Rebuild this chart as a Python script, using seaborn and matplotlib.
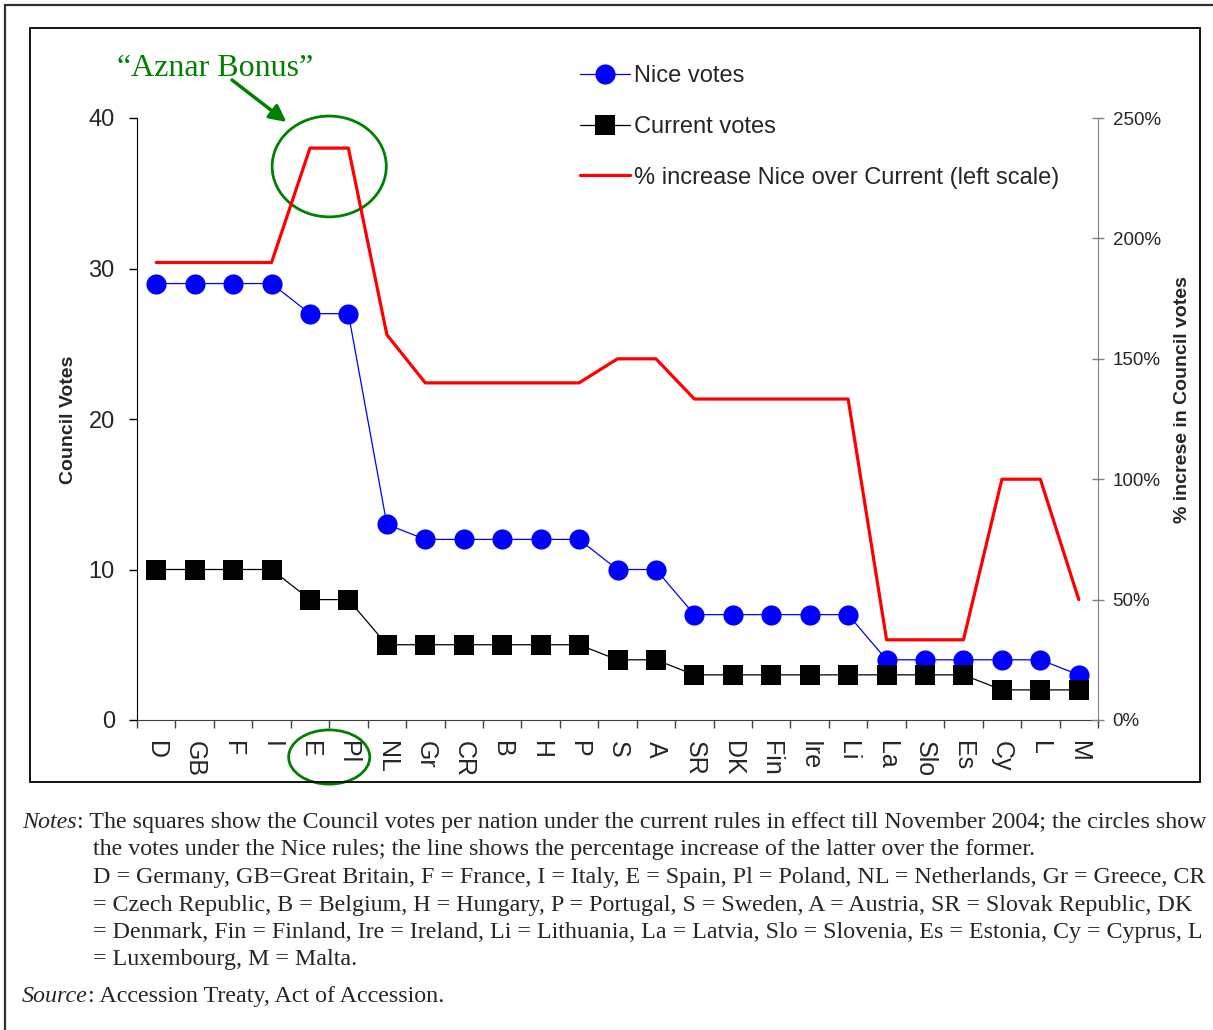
import matplotlib
matplotlib.use('Agg')
import matplotlib.pyplot as plt
import seaborn as sns
import pandas as pd
import numpy as np
from matplotlib.patches import Ellipse, Rectangle
from matplotlib.lines import Line2D

# Council votes per nation (current rules vs Nice rules)
countries = ['D', 'GB', 'F', 'I', 'E', 'Pl', 'NL', 'Gr', 'CR', 'B', 'H', 'P', 'S', 'A',
             'SR', 'DK', 'Fin', 'Ire', 'Li', 'La', 'Slo', 'Es', 'Cy', 'L', 'M']
nice_votes = [29, 29, 29, 29, 27, 27, 13, 12, 12, 12, 12, 12, 10, 10,
              7, 7, 7, 7, 7, 4, 4, 4, 4, 4, 3]
current_votes = [10, 10, 10, 10, 8, 8, 5, 5, 5, 5, 5, 5, 4, 4,
                 3, 3, 3, 3, 3, 3, 3, 3, 2, 2, 2]
pct_increase = [190, 190, 190, 190, 237.5, 237.5, 160, 140, 140, 140, 140, 140, 150, 150,
                133.3, 133.3, 133.3, 133.3, 133.3, 33.3, 33.3, 33.3, 100, 100, 50]
left_ticks = [0, 10, 20, 30, 40]
right_ticks = [0, 50, 100, 150, 200, 250]
right_tick_labels = ['0%', '50%', '100%', '150%', '200%', '250%']

notes_lines = [
    "the votes under the Nice rules; the line shows the percentage increase of the latter over the former.",
    "D = Germany, GB=Great Britain, F = France, I = Italy, E = Spain, Pl = Poland, NL = Netherlands, Gr = Greece, CR",
    "= Czech Republic, B = Belgium, H = Hungary, P = Portugal, S = Sweden, A = Austria, SR = Slovak Republic, DK",
    "= Denmark, Fin = Finland, Ire = Ireland, Li = Lithuania, La = Latvia, Slo = Slovenia, Es = Estonia, Cy = Cyprus, L",
    "= Luxembourg, M = Malta.",
]

df = pd.DataFrame({'country': countries, 'nice': nice_votes,
                   'current': current_votes, 'pct': pct_increase})

sns.set_style('white')
plt.rcParams['font.family'] = ['Liberation Sans', 'DejaVu Sans']

W, H = 1213, 1030
fig = plt.figure(figsize=(W / 100, H / 100), dpi=100)


def fx(px):
    return px / W


def fy(py):
    return 1 - py / H


ax = fig.add_axes([fx(137), fy(720), (1098 - 137) / W, (720 - 118) / H])

sns.lineplot(data=df, x='country', y='nice', ax=ax, sort=False, color='blue',
             linewidth=0.9, marker='o', markersize=14.5, markeredgewidth=0)
sns.lineplot(data=df, x='country', y='current', ax=ax, sort=False, color='black',
             linewidth=0.9, marker='s', markersize=14.5, markeredgewidth=0)

ax2 = ax.twinx()
sns.lineplot(data=df, x='country', y='pct', ax=ax2, sort=False, color='red', linewidth=2.3)

ax.set_xlim(-0.5, len(countries) - 0.5)
ax.set_ylim(0, 40)
ax2.set_ylim(0, 250)

ax.set_yticks(left_ticks)
ax.tick_params(axis='y', direction='out', length=6, width=1, pad=10, labelsize=17,
               left=True, color='black')
ax2.set_yticks(right_ticks)
ax2.set_yticklabels(right_tick_labels)
ax2.tick_params(axis='y', direction='inout', length=9, width=1, pad=6, labelsize=13.5,
                right=True, color='#808080')

ax.set_xticks(np.arange(-0.5, len(countries), 1), minor=True)
ax.tick_params(axis='x', which='major', length=0, pad=15, labelsize=18, labelrotation=-90)
ax.tick_params(axis='x', which='minor', direction='out', length=6, width=1,
               bottom=True, color='#404040')
for lab in ax.get_xticklabels():
    lab.set_verticalalignment('top')

ax.set_xlabel('')
ax.set_ylabel('Council Votes', fontsize=14, fontweight='bold')
ax.yaxis.set_label_coords((77 - 137) / 961, (720 - 420) / 602)
ax2.set_ylabel('% increse in Council votes', fontsize=14, fontweight='bold')
ax2.yaxis.set_label_coords((1174 - 137) / 961, (720 - 400) / 602)

for s in ['top', 'right']:
    ax.spines[s].set_visible(False)
ax.spines['left'].set_color('black')
ax.spines['bottom'].set_color('#404040')
for s in ['top', 'left', 'bottom']:
    ax2.spines[s].set_visible(False)
ax2.spines['right'].set_color('#808080')

# Highlight of the "Aznar bonus" for Spain and Poland
ax.add_patch(Ellipse((4.5, 36.78), width=2.97, height=6.7, fill=False,
                     edgecolor='green', linewidth=2, clip_on=False, zorder=5))
ax.add_patch(Ellipse((4.5, -2.46), width=2.11, height=3.6, fill=False,
                     edgecolor='green', linewidth=2, clip_on=False, zorder=5))
fig.text(fx(215), fy(69), '\u201cAznar Bonus\u201d', color='green', fontsize=23,
         family=['Liberation Serif', 'DejaVu Serif'], ha='center', va='center')
ax.annotate('', xy=(3.39, 39.73), xycoords='data',
            xytext=(fx(232), fy(80)), textcoords='figure fraction',
            arrowprops=dict(arrowstyle='-|>', color='green', lw=2.5, mutation_scale=25,
                            shrinkA=0, shrinkB=0),
            annotation_clip=False)

handles = [
    Line2D([], [], color='blue', lw=0.9, marker='o', markersize=14.5, markeredgewidth=0),
    Line2D([], [], color='black', lw=0.9, marker='s', markersize=14.5, markeredgewidth=0),
    Line2D([], [], color='red', lw=2.3),
]
labels = ['Nice votes', 'Current votes', '% increase Nice over Current (left scale)']
fig.legend(handles, labels, loc='upper left', bbox_to_anchor=(fx(580), fy(65)),
           frameon=False, fontsize=17, handlelength=2.12, handletextpad=0.17,
           labelspacing=1.22, borderpad=0, borderaxespad=0)

# frames
fig.add_artist(Rectangle((fx(30), fy(782)), (1200 - 30) / W, (782 - 28) / H,
                         transform=fig.transFigure, fill=False, edgecolor='black', lw=1.3))
fig.add_artist(Rectangle((fx(5), fy(H + 20)), (W + 20) / W, (H + 15) / H,
                         transform=fig.transFigure, fill=False, edgecolor='#303030', lw=1.6))

serif = ['Liberation Serif', 'DejaVu Serif']
note_size = 17.3
renderer = fig.canvas.get_renderer()
t = fig.text(fx(22), fy(828), 'Notes', style='italic', fontsize=note_size, family=serif,
             va='baseline', ha='left')
x1 = t.get_window_extent(renderer).x1
fig.text(x1 / W, fy(828), ': The squares show the Council votes per nation under the current '
         'rules in effect till November 2004; the circles show',
         fontsize=note_size, family=serif, va='baseline', ha='left')
for i, line in enumerate(notes_lines):
    fig.text(fx(93), fy(855.5 + i * 27.5), line, fontsize=note_size, family=serif,
             va='baseline', ha='left')
t = fig.text(fx(22), fy(1002), 'Source', style='italic', fontsize=note_size, family=serif,
             va='baseline', ha='left')
x1 = t.get_window_extent(renderer).x1
fig.text(x1 / W, fy(1002), ': Accession Treaty, Act of Accession.',
         fontsize=note_size, family=serif, va='baseline', ha='left')

fig.savefig('out.png', dpi=100)
